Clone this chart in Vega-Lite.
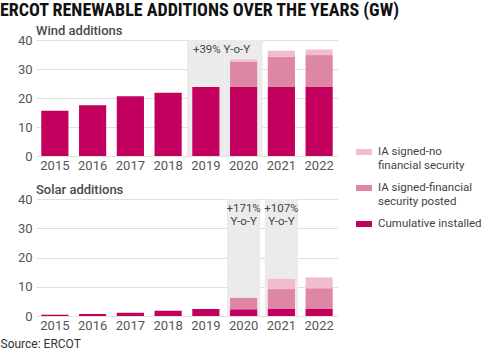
{
  "$schema": "https://vega.github.io/schema/vega-lite/v6.json",
  "padding": {"left": 0, "top": 2, "right": 0, "bottom": 0},
  "background": "white",
  "title": {"text": "ERCOT RENEWABLE ADDITIONS OVER THE YEARS (GW)", "anchor": "start", "frame": "group", "dx": -36, "font": "Liberation Sans Narrow, Roboto Condensed, DejaVu Sans Condensed, Roboto", "fontSize": 18, "fontWeight": "bold", "color": "#111111", "offset": 5},
  "datasets": {
    "bars": [
      {"chart": "Wind", "year": "2015", "category": "Cumulative installed", "rank": 1, "value": 15.6},
      {"chart": "Wind", "year": "2016", "category": "Cumulative installed", "rank": 1, "value": 17.5},
      {"chart": "Wind", "year": "2017", "category": "Cumulative installed", "rank": 1, "value": 20.6},
      {"chart": "Wind", "year": "2018", "category": "Cumulative installed", "rank": 1, "value": 21.8},
      {"chart": "Wind", "year": "2019", "category": "Cumulative installed", "rank": 1, "value": 23.8},
      {"chart": "Wind", "year": "2020", "category": "Cumulative installed", "rank": 1, "value": 23.8},
      {"chart": "Wind", "year": "2020", "category": "IA signed-financial security posted", "rank": 2, "value": 8.7},
      {"chart": "Wind", "year": "2020", "category": "IA signed-no financial security", "rank": 3, "value": 0.8},
      {"chart": "Wind", "year": "2021", "category": "Cumulative installed", "rank": 1, "value": 23.8},
      {"chart": "Wind", "year": "2021", "category": "IA signed-financial security posted", "rank": 2, "value": 10.4},
      {"chart": "Wind", "year": "2021", "category": "IA signed-no financial security", "rank": 3, "value": 2.1},
      {"chart": "Wind", "year": "2022", "category": "Cumulative installed", "rank": 1, "value": 23.8},
      {"chart": "Wind", "year": "2022", "category": "IA signed-financial security posted", "rank": 2, "value": 11.0},
      {"chart": "Wind", "year": "2022", "category": "IA signed-no financial security", "rank": 3, "value": 1.9},
      {"chart": "Solar", "year": "2015", "category": "Cumulative installed", "rank": 1, "value": 0.45},
      {"chart": "Solar", "year": "2016", "category": "Cumulative installed", "rank": 1, "value": 0.7},
      {"chart": "Solar", "year": "2017", "category": "Cumulative installed", "rank": 1, "value": 1.1},
      {"chart": "Solar", "year": "2018", "category": "Cumulative installed", "rank": 1, "value": 1.8},
      {"chart": "Solar", "year": "2019", "category": "Cumulative installed", "rank": 1, "value": 2.4},
      {"chart": "Solar", "year": "2020", "category": "Cumulative installed", "rank": 1, "value": 2.3},
      {"chart": "Solar", "year": "2020", "category": "IA signed-financial security posted", "rank": 2, "value": 3.9},
      {"chart": "Solar", "year": "2021", "category": "Cumulative installed", "rank": 1, "value": 2.4},
      {"chart": "Solar", "year": "2021", "category": "IA signed-financial security posted", "rank": 2, "value": 6.8},
      {"chart": "Solar", "year": "2021", "category": "IA signed-no financial security", "rank": 3, "value": 3.5},
      {"chart": "Solar", "year": "2022", "category": "Cumulative installed", "rank": 1, "value": 2.4},
      {"chart": "Solar", "year": "2022", "category": "IA signed-financial security posted", "rank": 2, "value": 7.1},
      {"chart": "Solar", "year": "2022", "category": "IA signed-no financial security", "rank": 3, "value": 3.7}
    ],
    "highlights": [
      {"chart": "Wind", "year": "2019", "top": 40},
      {"chart": "Wind", "year": "2020", "top": 40},
      {"chart": "Solar", "year": "2020", "top": 40},
      {"chart": "Solar", "year": "2021", "top": 40}
    ],
    "notes": [
      {"chart": "Wind", "year": "2019", "y": 36.4, "label": ["+39% Y-o-Y"]},
      {"chart": "Solar", "year": "2020", "y": 38.5, "label": ["+171%", "Y-o-Y"]},
      {"chart": "Solar", "year": "2021", "y": 38.5, "label": ["+107%", "Y-o-Y"]}
    ]
  },
  "vconcat": [
    {
      "width": 302,
      "height": 116,
      "title": {"text": "Wind additions"},
      "layer": [
        {
          "data": {"name": "highlights"},
          "transform": [{"filter": "datum.chart == 'Wind'"}],
          "mark": {"type": "bar", "color": "#ebebeb", "width": {"band": 1.389}},
          "encoding": {
            "x": {"field": "year", "type": "ordinal"},
            "y": {"field": "top", "type": "quantitative", "stack": null}
          }
        },
        {
          "data": {"name": "bars"},
          "transform": [{"filter": "datum.chart == 'Wind'"}],
          "mark": {"type": "bar"},
          "encoding": {
            "x": {"field": "year", "type": "ordinal"},
            "y": {"field": "value", "type": "quantitative", "stack": "zero"},
            "color": {"field": "category", "type": "nominal",
              "scale": {"domain": ["IA signed-no financial security", "IA signed-financial security posted", "Cumulative installed"], "range": ["#f2bccd", "#de86a5", "#c4005e"]},
              "legend": {
                "labelExpr": "datum.label == 'IA signed-no financial security' ? ['IA signed-no', 'financial security'] : datum.label == 'IA signed-financial security posted' ? ['IA signed-financial', 'security posted'] : datum.label"
              }},
            "order": {"field": "rank", "type": "quantitative"}
          }
        },
        {
          "data": {"name": "notes"},
          "transform": [{"filter": "datum.chart == 'Wind'"}],
          "mark": {"type": "text", "align": "left", "baseline": "middle", "dx": -13, "fontSize": 11.5, "color": "#444444"},
          "encoding": {
            "x": {"field": "year", "type": "ordinal"},
            "y": {"field": "y", "type": "quantitative"},
            "text": {"field": "label"}
          }
        }
      ],
      "encoding": {
        "x": {"field": "year", "type": "ordinal", "scale": {"domain": ["2015","2016","2017","2018","2019","2020","2021","2022"], "paddingInner": 0.28, "paddingOuter": 0.14}, "axis": {"title": null}},
        "y": {"field": "value", "type": "quantitative", "scale": {"domain": [0, 40], "nice": false}, "axis": {"title": null, "values": [0, 10, 20, 30, 40]}}
      }
    },
    {
      "width": 302,
      "height": 117,
      "title": {"text": "Solar additions"},
      "layer": [
        {
          "data": {"name": "highlights"},
          "transform": [{"filter": "datum.chart == 'Solar'"}],
          "mark": {"type": "bar", "color": "#ebebeb", "width": {"band": 1.22}},
          "encoding": {
            "x": {"field": "year", "type": "ordinal"},
            "y": {"field": "top", "type": "quantitative", "stack": null}
          }
        },
        {
          "data": {"name": "bars"},
          "transform": [{"filter": "datum.chart == 'Solar'"}],
          "mark": {"type": "bar"},
          "encoding": {
            "x": {"field": "year", "type": "ordinal"},
            "y": {"field": "value", "type": "quantitative", "stack": "zero"},
            "color": {"field": "category", "type": "nominal"},
            "order": {"field": "rank", "type": "quantitative"}
          }
        },
        {
          "data": {"name": "notes"},
          "transform": [{"filter": "datum.chart == 'Solar'"}],
          "mark": {"type": "text", "align": "center", "baseline": "top", "fontSize": 11.5, "lineHeight": 13, "color": "#444444"},
          "encoding": {
            "x": {"field": "year", "type": "ordinal"},
            "y": {"field": "y", "type": "quantitative"},
            "text": {"field": "label"}
          }
        }
      ],
      "encoding": {
        "x": {"field": "year", "type": "ordinal", "scale": {"domain": ["2015","2016","2017","2018","2019","2020","2021","2022"], "paddingInner": 0.28, "paddingOuter": 0.14}, "axis": {"title": "Source: ERCOT", "titleAnchor": "start", "titleAlign": "left", "titleX": -36, "titleY": 22, "titleBaseline": "top", "titleFontSize": 12, "titleFontWeight": "normal", "titleColor": "#333333"}},
        "y": {"field": "value", "type": "quantitative", "scale": {"domain": [0, 40], "nice": false}, "axis": {"title": null, "values": [0, 10, 20, 30, 40]}}
      }
    }
  ],
  "spacing": 12,
  "resolve": {"scale": {"color": "shared"}},
  "config": {
    "font": "Roboto",
    "view": {"stroke": null},
    "title": {"anchor": "start", "fontSize": 13, "fontWeight": 500, "color": "#4a4a4a", "offset": -4, "frame": "group"},
    "axis": {"domain": false, "ticks": false, "labelFontSize": 13, "labelColor": "#555555", "gridColor": "#e0e0e0", "labelPadding": 4},
    "axisX": {"grid": false, "labelAngle": 0, "labelPadding": 3},
    "axisY": {"grid": true},
    "legend": {
      "orient": "none", "legendX": 320, "legendY": 104, "title": null,
      "symbolType": "M-1,-0.375H1V0.375H-1Z", "symbolSize": 256, "symbolStrokeWidth": 0,
      "labelFontSize": 11.5, "labelColor": "#444444", "rowPadding": 9, "labelOffset": 6,
      "labelLimit": 200
    }
  }
}
